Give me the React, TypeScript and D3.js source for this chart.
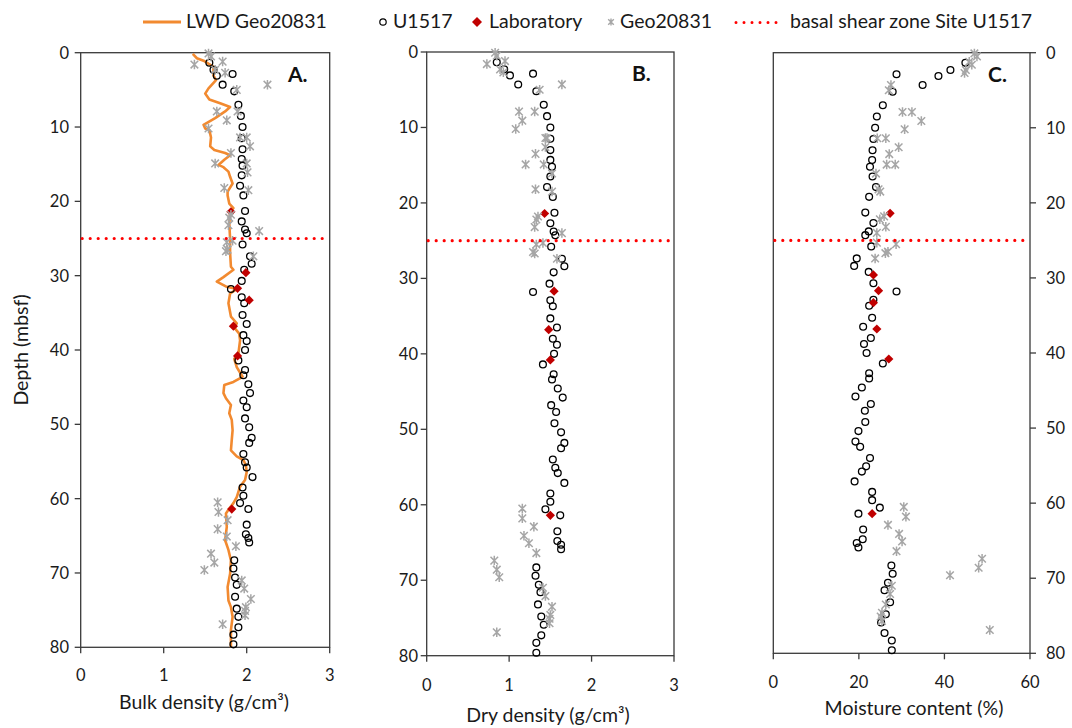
import React from "react";
import * as d3 from "d3";

// ---- Site U1517 discrete samples (depth in mbsf) ----
const U1517_DEPTH = [
  1.35, 2.3, 2.87, 3.1, 4.3, 5.2, 7.0, 8.5, 10.0, 11.5, 13.0, 14.3, 15.2, 16.5, 17.9, 19.2,
  21.3, 22.7, 23.8, 24.3, 25.8, 27.4, 28.4, 29.2, 30.7, 31.8, 32.9, 33.7, 35.3, 36.5, 38.0,
  38.8, 40.0, 41.4, 42.7, 43.4, 44.6, 45.8, 46.8, 47.7, 49.2, 50.4, 51.8, 52.5, 54.0, 55.1,
  55.8, 57.1, 58.5, 59.6, 60.6, 61.4, 63.5, 64.8, 65.3, 65.9, 68.3, 69.4, 70.6, 71.6, 73.2,
  74.8, 75.9, 77.3, 78.3, 79.6,
];
const U1517_BULK = [
  1.55, 1.6, 1.83, 1.64, 1.71, 1.85, 1.9, 1.93, 1.95, 1.94, 1.95, 1.94, 1.95, 1.94, 1.92, 1.96,
  1.98, 1.94, 1.98, 2.0, 1.95, 2.04, 2.06, 1.97, 1.94, 1.81, 1.94, 1.97, 1.95, 2.0, 1.96,
  2.0, 1.98, 1.9, 1.98, 1.96, 2.02, 2.04, 1.96, 2.0, 1.98, 2.03, 2.06, 2.03, 1.96, 1.98,
  2.0, 2.07, 1.95, 1.96, 1.92, 2.02, 2.0, 1.99, 2.02, 2.03, 1.85, 1.84, 1.86, 1.88, 1.86,
  1.88, 1.9, 1.9, 1.84, 1.84,
];
const U1517_DRY = [
  0.85, 0.94, 1.29, 1.01, 1.11, 1.33, 1.42, 1.46, 1.5, 1.5, 1.5, 1.5, 1.52, 1.5, 1.46, 1.53,
  1.55, 1.5, 1.54, 1.56, 1.51, 1.64, 1.67, 1.54, 1.49, 1.29, 1.5, 1.53, 1.5, 1.58, 1.53,
  1.58, 1.545, 1.41, 1.54, 1.52, 1.59, 1.65, 1.51, 1.57, 1.55, 1.63, 1.67, 1.63, 1.53, 1.56,
  1.59, 1.67, 1.5, 1.5, 1.44, 1.62, 1.585, 1.585, 1.63, 1.63, 1.33, 1.32, 1.36, 1.38, 1.35,
  1.39, 1.42, 1.39, 1.33, 1.33,
];
const U1517_MOISTURE = [
  44.9, 41.4, 28.8, 38.6, 34.9, 27.9, 25.6, 24.2, 23.8, 23.4, 23.2, 23.1, 22.6, 23.2, 24.0, 22.4,
  21.5, 23.4, 22.3, 21.5, 22.9, 19.5, 18.9, 22.3, 23.4, 28.8, 23.4, 22.4, 23.1, 21.0, 22.8,
  21.2, 21.8, 25.6, 22.4, 22.4, 20.7, 19.2, 22.8, 21.4, 21.5, 19.9, 19.2, 20.3, 22.6, 21.7,
  20.7, 19.0, 23.1, 23.1, 24.9, 19.9, 21.0, 20.9, 19.5, 19.9, 27.6, 27.9, 26.8, 26.0, 27.3,
  26.3, 25.2, 26.0, 27.7, 27.7,
];

// ---- Laboratory measurements ----
const LAB_DEPTH = [21.4, 29.6, 31.7, 33.3, 36.8, 40.8, 61.4];
const LAB_BULK = [1.81, 1.99, 1.89, 2.03, 1.84, 1.89, 1.82];
const LAB_MOISTURE = [27.3, 23.4, 24.6, 23.4, 24.2, 27.0, 23.1];
const LAB_DRY_DEPTH = [21.4, 31.7, 36.8, 40.8, 61.4];
const LAB_DRY = [1.43, 1.545, 1.48, 1.5, 1.5];

// ---- Geo20831 core samples ----
const GEO_DEPTH = [
  0.1, 0.5, 1.2, 1.6, 2.3, 2.7, 4.3, 5.0, 7.9, 7.9, 9.1, 10.2, 11.4, 11.4, 12.6, 13.5, 14.9,
  14.9, 16.1, 18.2, 18.5, 21.8, 22.2, 23.2, 24.0, 25.3, 25.5, 26.5, 26.7, 27.4, 60.5, 61.8,
  62.9, 64.1, 65.1, 66.4, 67.4, 68.6, 69.6, 71.0, 72.1, 73.5, 74.6, 75.1, 75.7, 76.9,
];
const GEO_BULK = [
  1.54, 1.57, 1.71, 1.37, 1.62, 1.74, 2.25, 1.88, 1.64, 1.89, 1.76, 1.54, 1.92, 2.0, 2.04, 1.81,
  1.62, 2.0, 2.01, 1.73, 2.02, 1.81, 1.79, 1.78, 2.15, 1.83, 1.76, 1.77, 1.75, 2.08, 1.65,
  1.66, 1.77, 1.65, 1.76, 1.87, 1.57, 1.61, 1.49, 1.94, 1.97, 2.05, 1.99, 1.98, 1.98, 1.71,
];
const GEO_DRY = [
  0.83, 0.85, 0.95, 0.73, 0.89, 0.93, 1.64, 1.37, 1.12, 1.31, 1.16, 1.08, 1.44, 1.46, 1.44, 1.32,
  1.2, 1.42, 1.52, 1.32, 1.52, 1.35, 1.33, 1.31, 1.64, 1.41, 1.33, 1.29, 1.31, 1.58, 1.16,
  1.16, 1.3, 1.18, 1.24, 1.33, 0.82, 0.85, 0.88, 1.41, 1.44, 1.52, 1.5, 1.49, 1.49, 0.85,
];
const GEO_MOISTURE = [
  47.0, 47.6, 45.8, 46.4, 45.0, 44.7, 27.5, 27.0, 32.4, 30.2, 34.6, 30.7, 26.3, 24.3, 29.3, 27.1,
  28.5, 26.5, 24.0, 24.6, 25.0, 25.9, 24.9, 26.3, 24.2, 24.2, 28.7, 26.8, 26.2, 23.8, 30.5,
  31.0, 26.8, 29.4, 30.1, 28.8, 48.8, 48.0, 41.3, 27.7, 27.3, 26.3, 25.4, 25.1, 25.4, 50.6,
];

// ---- LWD bulk density log, Geo20831 ----
const LWD_DEPTH = [
  0.17, 0.75, 1.08, 1.9, 3.1, 3.7, 4.8, 5.5, 6.3, 6.8, 7.3, 7.9, 8.8, 9.7, 10.2, 10.4, 11.4,
  12.6, 13.1, 13.5, 13.8, 14.4, 15.1, 15.4, 16.0, 16.7, 17.6, 18.7, 19.2, 20.3, 20.9, 21.5,
  23.0, 25.0, 26.9, 28.8, 29.2, 30.2, 30.8, 31.5, 31.8, 32.4, 33.7, 35.5, 36.4, 37.0, 37.8,
  38.7, 40.5, 41.2, 42.3, 43.6, 44.3, 44.7, 45.8, 46.5, 47.4, 48.5, 49.4, 50.8, 52.1, 53.5,
  54.3, 54.8, 55.5, 56.4, 57.5, 58.4, 59.8, 60.6, 61.5, 62.0, 63.8, 65.6, 66.9, 68.3, 70.1,
  71.9, 73.7, 74.6, 75.9, 77.7, 80.0,
];
const LWD_BULK = [
  1.35, 1.4, 1.48, 1.6, 1.6, 1.63, 1.54, 1.5, 1.55, 1.68, 1.8, 1.74, 1.62, 1.48, 1.5, 1.55, 1.57,
  1.56, 1.61, 1.74, 1.8, 1.73, 1.66, 1.72, 1.78, 1.8, 1.83, 1.77, 1.77, 1.79, 1.84, 1.8,
  1.79, 1.8, 1.8, 1.81, 1.84, 1.72, 1.64, 1.76, 1.88, 1.8, 1.78, 1.81, 1.88, 1.85, 1.91,
  1.92, 1.9, 1.85, 1.88, 1.95, 1.84, 1.73, 1.72, 1.75, 1.81, 1.79, 1.82, 1.83, 1.82, 1.81,
  1.88, 1.96, 1.99, 2.0, 1.98, 1.92, 1.88, 1.84, 1.78, 1.75, 1.76, 1.74, 1.78, 1.81, 1.8,
  1.77, 1.78, 1.81, 1.83, 1.81, 1.81,
];

const SHEAR_ZONE_DEPTH = 25;
const DEPTH_TICKS = [0, 10, 20, 30, 40, 50, 60, 70, 80];
const DENSITY_TICKS = [0, 1, 2, 3];
const MOISTURE_TICKS = [0, 20, 40, 60];

const FONT = "Lato, 'Liberation Sans', sans-serif";
const TEXT_COLOR = "#1a1a1a";
const AXIS_COLOR = "#3a3a3a";
const ORANGE = "#F28A30";
const LAB_RED = "#C00000";
const GEO_GREY = "#A6A6A6";
const SHEAR_RED = "#FF0000";

const starPath = (s: number) =>
  `M${-s},${-s}L${s},${s}M${-s},${s}L${s},${-s}M0,${-s * 1.25}L0,${s * 1.25}`;
const diamondPath = (s: number) => `M0,${-s}L${s},0L0,${s}L${-s},0Z`;

type Pts = { d: number[]; v: number[] };

type PanelProps = {
  left: number;
  right: number;
  top: number;
  bottom: number;
  xMax: number;
  xTicks: number[];
  xTickY: number;
  title: string;
  titleX: number;
  titleY: number;
  letter: string;
  letterX: number;
  yAxisSide: "left" | "right";
  yLabelX: number;
  u1517: Pts;
  lab: Pts;
  geo: Pts;
  lwd?: Pts;
};

function Panel(p: PanelProps) {
  const x = d3.scaleLinear().domain([0, p.xMax]).range([p.left, p.right]);
  const y = d3.scaleLinear().domain([0, 80]).range([p.top, p.bottom]);
  const lineGen = d3
    .line<number>()
    .x((_, i) => x(p.lwd!.v[i]))
    .y((dd) => y(dd));

  const axisX = p.yAxisSide === "right" ? p.right : p.left;
  const tickDir = p.yAxisSide === "right" ? 1 : -1;

  return (
    <g>
      {/* frame */}
      <rect
        x={p.left}
        y={p.top}
        width={p.right - p.left}
        height={p.bottom - p.top}
        fill="none"
        stroke={AXIS_COLOR}
        strokeWidth={1.3}
      />
      {/* depth axis ticks and labels */}
      {DEPTH_TICKS.map((t) => (
        <g key={`yt${t}`}>
          <line
            x1={axisX}
            x2={axisX + tickDir * 6}
            y1={y(t)}
            y2={y(t)}
            stroke={AXIS_COLOR}
            strokeWidth={1.3}
          />
          <text
            x={p.yLabelX}
            y={y(t)}
            dy="0.36em"
            textAnchor={p.yAxisSide === "right" ? "start" : "end"}
            fontFamily={FONT}
            fontSize={16.5}
            fill={TEXT_COLOR}
          >
            {t}
          </text>
        </g>
      ))}
      {/* x axis ticks and labels */}
      {p.xTicks.map((t) => (
        <g key={`xt${t}`}>
          <line
            x1={x(t)}
            x2={x(t)}
            y1={p.bottom}
            y2={p.bottom + 6}
            stroke={AXIS_COLOR}
            strokeWidth={1.3}
          />
          <text
            x={x(t)}
            y={p.xTickY}
            dy="0.36em"
            textAnchor="middle"
            fontFamily={FONT}
            fontSize={16.5}
            fill={TEXT_COLOR}
          >
            {t}
          </text>
        </g>
      ))}
      <text
        x={p.titleX}
        y={p.titleY}
        textAnchor="middle"
        fontFamily={FONT}
        fontSize={19.5}
        fill={TEXT_COLOR}
      >
        {p.title}
      </text>
      <text
        x={p.letterX}
        y={p.top + 29}
        fontFamily={FONT}
        fontSize={21}
        fontWeight="bold"
        fill="#111"
      >
        {p.letter}
      </text>

      {/* LWD log */}
      {p.lwd && (
        <path
          d={lineGen(p.lwd.d) || ""}
          fill="none"
          stroke={ORANGE}
          strokeWidth={2.6}
          strokeLinejoin="round"
        />
      )}
      {/* U1517 samples */}
      {p.u1517.d.map((dd, i) => (
        <circle
          key={`c${i}`}
          cx={x(p.u1517.v[i])}
          cy={y(dd)}
          r={3.4}
          fill="none"
          stroke="#000"
          strokeWidth={1.3}
        />
      ))}
      {/* laboratory */}
      {p.lab.d.map((dd, i) => (
        <path
          key={`l${i}`}
          d={diamondPath(4.6)}
          transform={`translate(${x(p.lab.v[i])},${y(dd)})`}
          fill={LAB_RED}
        />
      ))}
      {/* Geo20831 */}
      {p.geo.d.map((dd, i) => (
        <path
          key={`g${i}`}
          d={starPath(3.8)}
          transform={`translate(${x(p.geo.v[i])},${y(dd)})`}
          fill="none"
          stroke={GEO_GREY}
          strokeWidth={1.5}
        />
      ))}
      {/* basal shear zone */}
      <line
        x1={p.left + 1.5}
        x2={p.right}
        y1={y(SHEAR_ZONE_DEPTH)}
        y2={y(SHEAR_ZONE_DEPTH)}
        stroke={SHEAR_RED}
        strokeWidth={3.2}
        strokeDasharray="0 8"
        strokeLinecap="round"
      />
    </g>
  );
}

function Legend() {
  const ty = 28;
  const my = 22;
  const txt = (x: number, s: string) => (
    <text x={x} y={ty} fontFamily={FONT} fontSize={19.5} fill={TEXT_COLOR}>
      {s}
    </text>
  );
  return (
    <g>
      <line x1={143} x2={181} y1={my} y2={my} stroke={ORANGE} strokeWidth={3} />
      {txt(186, "LWD Geo20831")}
      <circle cx={383} cy={my} r={3.2} fill="none" stroke="#000" strokeWidth={1.2} />
      {txt(393, "U1517")}
      <path d={diamondPath(5)} transform={`translate(477,${my})`} fill={LAB_RED} />
      {txt(489, "Laboratory")}
      <path
        d={starPath(2.8)}
        transform={`translate(611,${my})`}
        fill="none"
        stroke={GEO_GREY}
        strokeWidth={1.4}
      />
      {txt(620, "Geo20831")}
      <line
        x1={736}
        x2={784}
        y1={my + 0.5}
        y2={my + 0.5}
        stroke={SHEAR_RED}
        strokeWidth={3}
        strokeDasharray="0 8"
        strokeLinecap="round"
      />
      {txt(790, "basal shear zone Site U1517")}
    </g>
  );
}

export default function App() {
  return (
    <svg
      width={1072}
      height={728}
      style={{ position: "absolute", left: 0, top: 0, background: "#fff" }}
    >
      <rect width={1072} height={728} fill="#fff" />
      <Legend />
      <text
        transform="translate(28,350) rotate(-90)"
        textAnchor="middle"
        fontFamily={FONT}
        fontSize={19.5}
        fill={TEXT_COLOR}
      >
        Depth (mbsf)
      </text>
      <Panel
        left={80.7}
        right={329.7}
        top={52.7}
        bottom={647.3}
        xMax={3}
        xTicks={DENSITY_TICKS}
        xTickY={675}
        title="Bulk density (g/cm³)"
        titleX={204}
        titleY={709}
        letter="A."
        letterX={288}
        yAxisSide="left"
        yLabelX={69}
        u1517={{ d: U1517_DEPTH, v: U1517_BULK }}
        lab={{ d: LAB_DEPTH, v: LAB_BULK }}
        geo={{ d: GEO_DEPTH, v: GEO_BULK }}
        lwd={{ d: LWD_DEPTH, v: LWD_BULK }}
      />
      <Panel
        left={426.7}
        right={674}
        top={52}
        bottom={655.7}
        xMax={3}
        xTicks={DENSITY_TICKS}
        xTickY={685}
        title="Dry density (g/cm³)"
        titleX={548}
        titleY={722}
        letter="B."
        letterX={632}
        yAxisSide="left"
        yLabelX={418}
        u1517={{ d: U1517_DEPTH, v: U1517_DRY }}
        lab={{ d: LAB_DRY_DEPTH, v: LAB_DRY }}
        geo={{ d: GEO_DEPTH, v: GEO_DRY }}
      />
      <Panel
        left={773.3}
        right={1030}
        top={52.7}
        bottom={653.3}
        xMax={60}
        xTicks={MOISTURE_TICKS}
        xTickY={682}
        title="Moisture content (%)"
        titleX={914}
        titleY={715}
        letter="C."
        letterX={988}
        yAxisSide="right"
        yLabelX={1046}
        u1517={{ d: U1517_DEPTH, v: U1517_MOISTURE }}
        lab={{ d: LAB_DEPTH, v: LAB_MOISTURE }}
        geo={{ d: GEO_DEPTH, v: GEO_MOISTURE }}
      />
    </svg>
  );
}
